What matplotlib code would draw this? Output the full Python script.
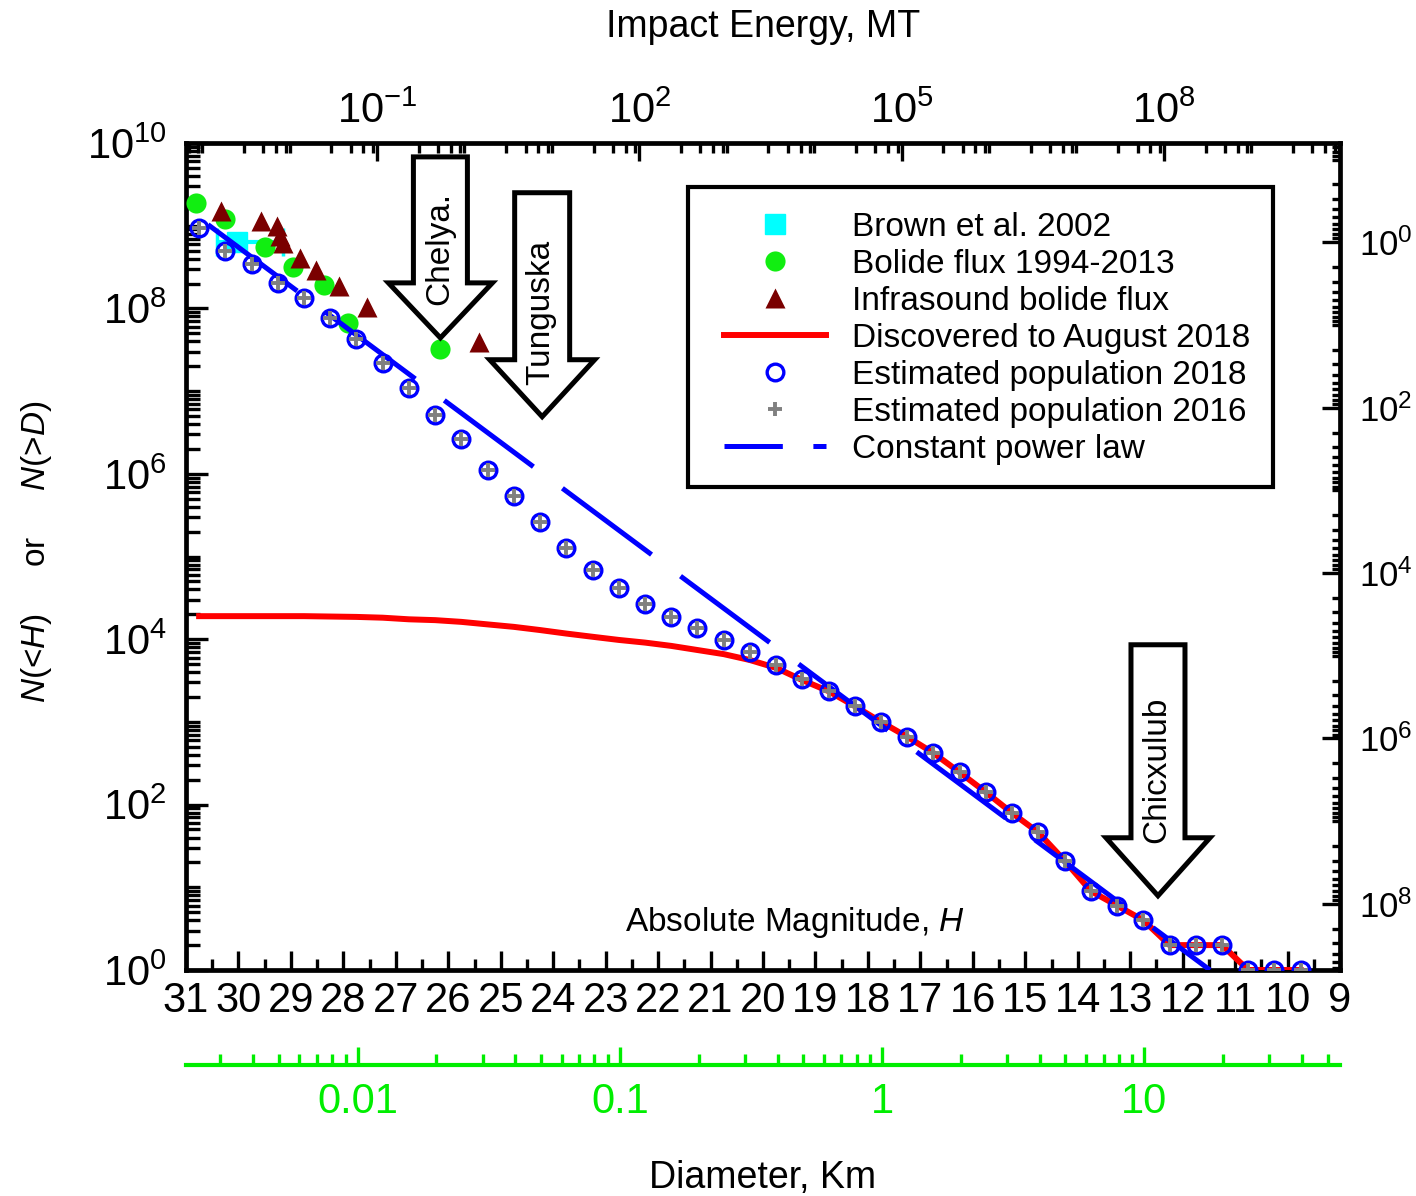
import numpy as np
import matplotlib
matplotlib.use('Agg')
import matplotlib.pyplot as plt
from matplotlib import transforms
from matplotlib.patches import Polygon, Rectangle
from matplotlib.lines import Line2D
from matplotlib.ticker import (FixedLocator, LogLocator, MultipleLocator,
                               NullFormatter, FuncFormatter)

plt.rcParams['font.family'] = ['Liberation Sans', 'DejaVu Sans']
plt.rcParams['mathtext.fontset'] = 'custom'
plt.rcParams['mathtext.rm'] = 'Liberation Sans'
plt.rcParams['mathtext.it'] = 'Liberation Sans:italic'
plt.rcParams['mathtext.bf'] = 'Liberation Sans:bold'
plt.rcParams['lines.scale_dashes'] = False
plt.rcParams['axes.unicode_minus'] = False

NARROW = ['Liberation Sans Narrow', 'Liberation Sans']

# ---------------- data ----------------
H_bins = [30.75, 30.25, 29.75, 29.25, 28.75, 28.25, 27.75, 27.25, 26.75, 26.25,
          25.75, 25.25, 24.75, 24.25, 23.75, 23.25, 22.75, 22.25, 21.75, 21.25,
          20.75, 20.25, 19.75, 19.25, 18.75, 18.25, 17.75, 17.25, 16.75, 16.25,
          15.75, 15.25, 14.75, 14.25, 13.75, 13.25, 12.75, 12.25, 11.75, 11.25,
          10.75, 10.25, 9.75]

est_2018 = [9.3e8, 4.9e8, 3.4e8, 2.05e8, 1.35e8, 7.6e7, 4.3e7, 2.2e7, 1.1e7, 5.2e6,
            2.6e6, 1.1e6, 5.4e5, 2.6e5, 1.25e5, 6.9e4, 4.2e4, 2.7e4, 1.85e4, 1.38e4,
            9.8e3, 7.1e3, 4.9e3, 3.3e3, 2.35e3, 1.55e3, 1.0e3, 660, 420, 245,
            141, 79, 46, 21, 9, 6, 4, 2, 2, 2,
            1, 1, 1]

est_2016 = [9.3e8, 4.9e8, 3.4e8, 2.05e8, 1.35e8, 7.6e7, 4.3e7, 2.2e7, 1.1e7, 5.2e6,
            2.6e6, 1.1e6, 5.4e5, 2.6e5, 1.25e5, 6.9e4, 4.2e4, 2.7e4, 1.85e4, 1.38e4,
            9.8e3, 7.1e3, 4.9e3, 3.3e3, 2.35e3, 1.55e3, 1.0e3, 660, 420, 245,
            141, 79, 46, 21, 9, 6, 4, 2, 2, 2,
            1, 1, 1]

discovered_2018 = [1.9e4, 1.9e4, 1.9e4, 1.9e4, 1.9e4, 1.88e4, 1.86e4, 1.82e4, 1.74e4, 1.70e4,
                   1.62e4, 1.51e4, 1.41e4, 1.29e4, 1.17e4, 1.07e4, 9.8e3, 9.1e3, 8.3e3, 7.4e3,
                   6.6e3, 5.6e3, 4.5e3, 3.2e3, 2.35e3, 1.55e3, 1.0e3, 660, 420, 245,
                   141, 79, 46, 21, 9, 6, 4, 2, 2, 2,
                   1, 1, 1]

bolide_H = [30.81, 30.26, 29.49, 28.96, 28.37, 27.91, 26.16]
bolide_N = [1.86e9, 1.2e9, 5.6e8, 3.2e8, 1.9e8, 6.6e7, 3.2e7]

infra_H = [30.33, 29.57, 29.26, 29.21, 29.15, 28.82, 28.52, 28.08, 27.55, 25.41]
infra_N = [1.5e9, 1.15e9, 1.0e9, 7.6e8, 6.2e8, 4.1e8, 2.9e8, 1.86e8, 1.05e8, 3.9e7]

brown_H = [30.03]
brown_N = [6.3e8]
brown_H_err_low = [0.87]
brown_H_err_high = [0.38]

powerlaw_H = [30.58, 11.48]
powerlaw_N = [1.03e9, 1.0]

events = ['Chelya.', 'Tunguska', 'Chicxulub']
event_H = [26.15, 24.21, 12.47]
event_N = [4.4e7, 4.9e6, 7.9]

H_ticks = [31, 30, 29, 28, 27, 26, 25, 24, 23, 22, 21, 20, 19, 18, 17, 16, 15, 14, 13, 12, 11, 10, 9]

# axis conversions
E_ZERO = 15.415      # log10(E/MT) = E_ZERO - 0.6 H
D_ZERO = 3.546       # log10(D/km) = D_ZERO - 0.2 H
RATE_K = 10 ** 8.80  # right axis = RATE_K / N

# ---------------- colours ----------------
C_CYAN = '#00ffff'
C_GREEN = '#11ee11'
C_MAROON = '#7a0000'
C_RED = '#ff0000'
C_BLUE = '#0000ff'
C_GRAY = '#808080'
C_AXGREEN = '#00ee00'

# ---------------- figure ----------------
W, HH = 1416, 1196
L, R, T, B = 186, 1340, 143, 970
fig = plt.figure(figsize=(W / 100, HH / 100), dpi=100)
ax = fig.add_axes([L / W, 1 - B / HH, (R - L) / W, (B - T) / HH])

ax.set_yscale('log')

ax.errorbar(brown_H, brown_N, xerr=[brown_H_err_low, brown_H_err_high], fmt='s',
            ms=14, color=C_CYAN, mec=C_CYAN, ecolor=C_CYAN, elinewidth=3,
            capsize=10, capthick=2.5, zorder=2)
ax.plot(bolide_H, bolide_N, 'o', ms=14.5, color=C_GREEN, mec='none', zorder=3)
ax.plot(infra_H, infra_N, '^', ms=14, color=C_MAROON, mec='none', zorder=4)
ax.plot(H_bins, discovered_2018, '-', color=C_RED, lw=4.3, zorder=5)
ax.plot(H_bins, est_2018, 'o', ms=12, mfc='none', mec=C_BLUE, mew=2.4, zorder=6)
ax.plot(powerlaw_H, powerlaw_N, '-', color=C_BLUE, lw=3.6, dashes=(80, 26),
        solid_capstyle='butt', dash_capstyle='butt', zorder=7)
ax.plot(H_bins, est_2016, '+', ms=10, mew=2.8, color=C_GRAY, zorder=8)

ax.set_xlim(31, 9)
ax.set_ylim(1, 1e10)

TICK_FS = 30

# main axes ticks
ax.xaxis.set_major_locator(FixedLocator(H_ticks))
ax.xaxis.set_major_formatter(FuncFormatter(lambda v, p: f'{v:.0f}'))
ax.xaxis.set_minor_locator(MultipleLocator(0.5))
ax.yaxis.set_major_locator(FixedLocator([1e0, 1e2, 1e4, 1e6, 1e8, 1e10]))
ax.yaxis.set_minor_locator(LogLocator(base=10, subs=np.arange(1.0, 10.0), numticks=100))
ax.yaxis.set_minor_formatter(NullFormatter())
ax.tick_params(axis='both', which='both', direction='in', top=False, right=False,
               width=2.4, labelsize=TICK_FS, labelfontfamily=NARROW)
ax.tick_params(axis='x', which='major', length=14, pad=8)
ax.tick_params(axis='x', which='minor', length=8)
ax.tick_params(axis='y', which='major', length=16, pad=14)
ax.tick_params(axis='y', which='minor', length=10)
for s in ax.spines.values():
    s.set_linewidth(3.4)

# top: impact energy
ax_top = ax.twiny()
ax_top.set_xscale('log')
ax_top.set_xlim(10 ** (E_ZERO - 0.6 * 31), 10 ** (E_ZERO - 0.6 * 9))
ax_top.xaxis.set_major_locator(FixedLocator([1e-1, 1e2, 1e5, 1e8]))
ax_top.xaxis.set_minor_locator(LogLocator(base=10, subs=(1.0, 3.0, 5.0, 7.0, 9.0), numticks=100))
ax_top.xaxis.set_minor_formatter(NullFormatter())
ax_top.tick_params(axis='x', which='both', direction='in', top=True, bottom=False,
                   labeltop=True, labelbottom=False, width=2.4, labelsize=TICK_FS,
                   labelfontfamily=NARROW)
ax_top.tick_params(axis='x', which='major', length=13, pad=8)
ax_top.tick_params(axis='x', which='minor', length=7)
for s in ax_top.spines.values():
    s.set_visible(False)

# right: rate axis
ax_r = ax.twinx()
ax_r.set_yscale('log')
ax_r.set_ylim(RATE_K / 1.0, RATE_K / 1e10)
ax_r.yaxis.set_major_locator(FixedLocator([1e0, 1e2, 1e4, 1e6, 1e8]))
ax_r.yaxis.set_minor_locator(LogLocator(base=10, subs=np.arange(1.0, 10.0), numticks=100))
ax_r.yaxis.set_minor_formatter(NullFormatter())
ax_r.tick_params(axis='y', which='both', direction='in', right=True, left=False,
                 labelright=True, labelleft=False, width=2.4, labelsize=25)
ax_r.tick_params(axis='y', which='major', length=13, pad=14)
ax_r.tick_params(axis='y', which='minor', length=6)
for s in ax_r.spines.values():
    s.set_visible(False)

# bottom green diameter axis
dax = fig.add_axes([L / W, 1 - 1065 / HH, (R - L) / W, 0.0005])
dax.set_xscale('log')
dax.set_xlim(10 ** (D_ZERO - 0.2 * 31), 10 ** (D_ZERO - 0.2 * 9))
dax.patch.set_visible(False)
for k in ['top', 'left', 'right']:
    dax.spines[k].set_visible(False)
dax.spines['bottom'].set_color(C_AXGREEN)
dax.spines['bottom'].set_linewidth(3)
dax.set_yticks([])
dax.xaxis.set_major_locator(FixedLocator([0.01, 0.1, 1, 10]))
dax.xaxis.set_major_formatter(FuncFormatter(lambda v, p: f'{v:g}'))
dax.xaxis.set_minor_locator(LogLocator(base=10, subs=np.arange(2.0, 10.0), numticks=100))
dax.xaxis.set_minor_formatter(NullFormatter())
dax.tick_params(axis='x', which='both', direction='in', colors=C_AXGREEN,
                width=2.4, labelsize=TICK_FS, labelfontfamily=NARROW)
dax.tick_params(axis='x', which='major', length=13, pad=12)
dax.tick_params(axis='x', which='minor', length=8)

# block arrows with labels
arrow_shapes = {  # pixel sizes: shaft length, head length, shaft half width, head half width, text offset
    'Chelya.': (181, 55, 27, 52, 89),
    'Tunguska': (224, 57, 27.5, 52.5, 104),
    'Chicxulub': (251, 58, 27, 52, 126),
}
for name, eh, en in zip(events, event_H, event_N):
    sl, hl, shw, hhw, toff = arrow_shapes[name]
    pts = np.array([[0, 0], [-hhw, hl], [-shw, hl], [-shw, sl],
                    [shw, sl], [shw, hl], [hhw, hl]]) / 100.0
    tr = fig.dpi_scale_trans + transforms.ScaledTranslation(eh, en, ax.transData)
    poly = Polygon(pts, closed=True, fc='white', ec='black', lw=3.6,
                   joinstyle='miter', transform=tr, zorder=10)
    ax.add_artist(poly)
    ax.text(-0.01, toff / 100.0, name, transform=tr, rotation=90, ha='center',
            va='center', fontsize=24, zorder=11)

# legend (frame drawn separately)
frame = Rectangle(((688 - L) / (R - L), (B - 487) / (B - T)),
                  (1273 - 688) / (R - L), (487 - 187) / (B - T),
                  transform=ax.transAxes, fc='white', ec='black', lw=3,
                  joinstyle='miter', zorder=11)
ax.add_artist(frame)
handles = [
    Line2D([], [], ls='none', marker='s', ms=14, color=C_CYAN, mec=C_CYAN),
    Line2D([], [], ls='none', marker='o', ms=14.5, color=C_GREEN, mec='none'),
    Line2D([], [], ls='none', marker='^', ms=14, color=C_MAROON, mec='none'),
    Line2D([], [], color=C_RED, lw=4.3),
    Line2D([], [], ls='none', marker='o', ms=12, mfc='none', mec=C_BLUE, mew=2.4),
    Line2D([], [], ls='none', marker='+', ms=10, mew=2.8, color=C_GRAY),
    Line2D([], [], color=C_BLUE, lw=3.6, dashes=(42, 22), dash_capstyle='butt'),
]
labels = ['Brown et al. 2002', 'Bolide flux 1994-2013', 'Infrasound bolide flux',
          'Discovered to August 2018', 'Estimated population 2018',
          'Estimated population 2016', 'Constant power law']
leg = ax.legend(handles, labels, loc='upper left',
                bbox_to_anchor=((724 - L) / (R - L), (B - 212) / (B - T)),
                borderaxespad=0, fontsize=24, handlelength=3.05, handletextpad=0.8,
                labelspacing=0.18, borderpad=0, frameon=False, numpoints=1)
leg.set_zorder(12)

# texts
ax.text((795 - L) / (R - L), (B - 922) / (B - T), 'Absolute Magnitude, $H$',
        transform=ax.transAxes, ha='center', va='center', fontsize=24, zorder=12)
fig.text(763 / W, 1 - 27 / HH, 'Impact Energy, MT', ha='center', va='center', fontsize=27)
fig.text(763 / W, 1 - 1178 / HH, 'Diameter, Km', ha='center', va='center', fontsize=27)
fig.text(37 / W, 1 - 552 / HH, r'$N$(<$H$)     or     $N$(>$D$)', rotation=90,
         ha='center', va='center', fontsize=24)

fig.savefig('out.png', dpi=100)
